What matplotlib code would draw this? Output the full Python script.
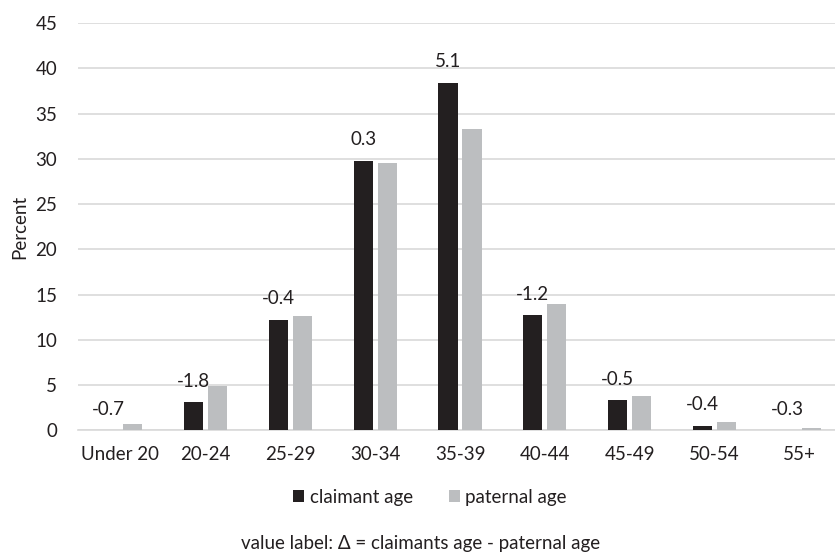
import matplotlib
matplotlib.use("Agg")
import matplotlib.pyplot as plt
import numpy as np

plt.rcParams['font.family'] = ['Lato', 'DejaVu Sans']

categories = ["Under 20", "20-24", "25-29", "30-34", "35-39", "40-44", "45-49", "50-54", "55+"]
claimant_age = [0.0, 3.1, 12.2, 29.8, 38.4, 12.7, 3.3, 0.5, 0.0]
paternal_age = [0.7, 4.9, 12.6, 29.5, 33.3, 13.9, 3.8, 0.9, 0.3]
delta_labels = ["-0.7", "-1.8", "-0.4", "0.3", "5.1", "-1.2", "-0.5", "-0.4", "-0.3"]
y_ticks = [0, 5, 10, 15, 20, 25, 30, 35, 40, 45]

dark = "#231F20"
grey = "#BCBEC0"
grid_c = "#D9D9D9"
text_c = "#231F20"
fs = 13.5

fig = plt.figure(figsize=(8.35, 5.53), dpi=100)
ax = fig.add_axes([78 / 835, 122.7 / 553, 764 / 835, 407.3 / 553])

x = np.arange(len(categories))
w = 0.225
off = 0.141
ax.bar(x - off, claimant_age, width=w, color=dark, label="claimant age", zorder=3)
ax.bar(x + off, paternal_age, width=w, color=grey, label="paternal age", zorder=3)

for xi, v, lab in zip(x, claimant_age, delta_labels):
    ax.annotate(lab, (xi - off, v), xytext=(0, 21), textcoords="offset pixels",
                ha="center", va="center", fontsize=fs, color=text_c)

ax.set_xlim(-0.5, len(categories) - 0.5)
ax.set_ylim(0, 45)
ax.set_yticks(y_ticks)
ax.set_xticks(x)
ax.set_xticklabels(categories)
ax.tick_params(axis="both", length=0, labelsize=fs, colors=text_c)
ax.tick_params(axis="y", pad=15)
ax.tick_params(axis="x", pad=11)
ax.yaxis.grid(True, color=grid_c, linewidth=1.2, zorder=0)
ax.set_axisbelow(True)
for s in ["top", "right", "left"]:
    ax.spines[s].set_visible(False)
ax.spines["bottom"].set_color(grid_c)
ax.spines["bottom"].set_linewidth(1.2)
ax.set_ylabel("Percent", fontsize=fs, color=text_c, labelpad=5)

fig.legend(loc="center", bbox_to_anchor=(430 / 835, 1 - 497 / 553), ncol=2,
           frameon=False, fontsize=fs, handlelength=0.6, handleheight=0.6,
           handletextpad=0.3, columnspacing=1.9, labelcolor=text_c)
fig.text(421 / 835, 1 - 544 / 553, "value label: \u0394 = claimants age - paternal age",
         ha="center", va="center", fontsize=fs, color=text_c)

fig.savefig("out.png", dpi=100)
